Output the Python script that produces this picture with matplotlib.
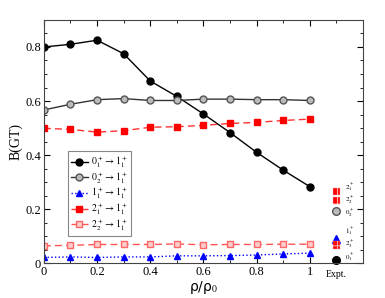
import matplotlib
matplotlib.use("Agg")
import matplotlib.pyplot as plt
from matplotlib.ticker import MultipleLocator

plt.rcParams['font.family'] = ['Liberation Serif', 'DejaVu Serif']
plt.rcParams['mathtext.fontset'] = 'stix'
plt.rcParams['hatch.linewidth'] = 0.8

rho = [0.0, 0.1, 0.2, 0.3, 0.4, 0.5, 0.6, 0.7, 0.8, 0.9, 1.0]
b_01 = [0.800, 0.810, 0.825, 0.775, 0.674, 0.617, 0.552, 0.483, 0.410, 0.344, 0.283]
b_02 = [0.567, 0.588, 0.605, 0.609, 0.602, 0.602, 0.607, 0.607, 0.605, 0.605, 0.602]
b_11 = [0.021, 0.023, 0.021, 0.023, 0.023, 0.027, 0.027, 0.028, 0.030, 0.034, 0.037]
b_21 = [0.499, 0.495, 0.485, 0.490, 0.503, 0.505, 0.510, 0.517, 0.521, 0.528, 0.533]
b_22 = [0.064, 0.066, 0.069, 0.069, 0.069, 0.071, 0.068, 0.069, 0.069, 0.070, 0.070]

expt_x = 1.1
expt_labels = [r'$2^+_1$', r'$2^+_2$', r'$0^+_2$', r'$1^+_1$', r'$2^+_3$', r'$0^+_1$']
expt_vals = [0.264, 0.233, 0.193, 0.088, 0.067, 0.011]
expt_kind = ['hatch', 'hatch', 'gray', 'blue', 'hatch', 'black']
# vertical label offsets (points), layout only
label_dy = [3.5, 0.0, -1.5, 6.0, 0.5, 2.0]

fig = plt.figure(figsize=(3.85, 2.98), dpi=100)
ax = fig.add_axes([0.114, 0.117, 0.829, 0.816])

ax.plot(rho, b_01, '-o', color='black', lw=1.0, ms=5, mfc='black', mec='black',
        label=r'$0^+_1 \rightarrow 1^+_1$')
ax.plot(rho, b_02, '-o', color='#333333', lw=1.0, ms=5, mfc='#bbbbbb', mec='#555555',
        label=r'$0^+_2 \rightarrow 1^+_1$')
ax.plot(rho, b_11, ':^', color='blue', lw=1.0, ms=5, mfc='blue', mec='blue',
        label=r'$1^+_1 \rightarrow 1^+_1$')
ax.plot(rho, b_21, '--s', color='#ff3333', lw=1.0, ms=5, mfc='red', mec='red',
        dashes=(5, 3), label=r'$2^+_1 \rightarrow 1^+_1$')
ax.plot(rho, b_22, '--s', color='#ff5555', lw=1.0, ms=5, mfc='#ffcccc', mec='#ff6666',
        dashes=(5, 3), label=r'$2^+_2 \rightarrow 1^+_1$')

for lab, v, k, dy in zip(expt_labels, expt_vals, expt_kind, label_dy):
    if k == 'hatch':
        ax.scatter([expt_x], [v], marker='s', s=26, facecolor='red', edgecolor='#ffaaaa',
                   hatch='++', linewidths=0.3, zorder=5, clip_on=False)
    elif k == 'gray':
        ax.plot([expt_x], [v], 'o', ms=5.5, mfc='#bbbbbb', mec='#555555', clip_on=False)
    elif k == 'blue':
        ax.plot([expt_x], [v], '^', ms=5.5, mfc='blue', mec='blue', clip_on=False)
    else:
        ax.plot([expt_x], [v], 'o', ms=5.5, mfc='black', mec='black', clip_on=False)
    ax.annotate(lab, (expt_x, v), xytext=(6, dy), textcoords='offset points',
                fontsize=5, va='center', ha='left')

ax.set_xlim(0, 1.2)
ax.set_ylim(0, 0.9)
ax.xaxis.set_minor_locator(MultipleLocator(0.1))
ax.yaxis.set_minor_locator(MultipleLocator(0.05))
ax.set_xticks([0, 0.2, 0.4, 0.6, 0.8, 1.0])
ax.set_xticklabels(['0', '0.2', '0.4', '0.6', '0.8', '1'])
ax.set_yticks([0, 0.2, 0.4, 0.6, 0.8])
ax.set_yticklabels(['0', '0.2', '0.4', '0.6', '0.8'])
ax.tick_params(which='both', direction='in', top=True, right=True, labelsize=9, pad=2)
ax.tick_params(which='major', length=4)
ax.tick_params(which='minor', length=2)
for s in ax.spines.values():
    s.set_color('#444444')
    s.set_linewidth(0.8)

ax.text(expt_x, -0.025, 'Expt.', transform=ax.transData, ha='center', va='top', fontsize=7)

ax.set_xlabel('ρ/ρ$_0$', fontsize=10, family=['DejaVu Sans'], labelpad=1)
ax.set_ylabel('B(GT)', fontsize=10, labelpad=2)

leg = ax.legend(loc='upper left', bbox_to_anchor=(0.075, 0.46), fontsize=7,
                frameon=True, fancybox=False, edgecolor='#888888', framealpha=1,
                handlelength=1.8, handletextpad=0.3, borderpad=0.3, labelspacing=0.0,
                borderaxespad=0)
leg.get_frame().set_linewidth(0.8)

fig.savefig('out.png', dpi=100)
